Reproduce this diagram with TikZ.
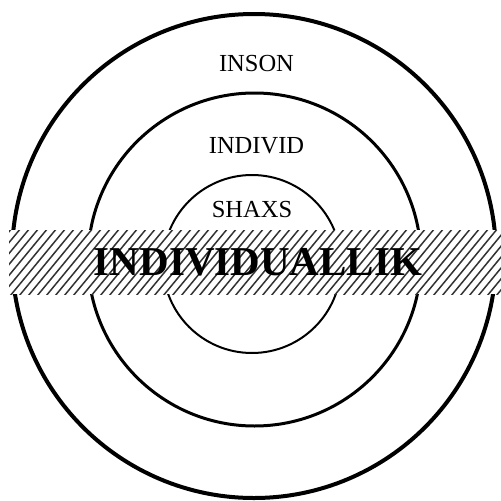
\documentclass[tikz,border=0pt]{standalone}
\usepackage{fontspec}
\setmainfont{Liberation Serif}
\begin{document}
\begin{tikzpicture}[x=1pt,y=-1pt,
  ring/.style={draw=black,fill=none},
  lbl/.style={font=\fontsize{24.5}{25}\selectfont,inner sep=0pt,anchor=base},
  biglbl/.style={font=\bfseries\fontsize{41}{41}\selectfont,inner sep=0pt,anchor=base},
  hatchline/.style={draw=black!80,line width=1.5pt}]
\useasboundingbox (0,0) rectangle (501,501);
\fill[white] (0,0) rectangle (501,501);
% rings
\draw[ring,line width=4pt] (254,256) circle[radius=242pt];
\draw[ring,line width=3pt] (254.5,259.5) circle[radius=166.5pt];
\draw[ring,line width=2pt] (252,264) circle[radius=89pt];
% labels
\node[lbl] (inson) at (256.5,71) {INSON};
\node[lbl] (individ) at (256.5,153) {INDIVID};
\node[lbl] (shaxs) at (252,217) {SHAXS};
% hatched band
\begin{scope}
  \clip (9,230) rectangle (501,294);
  \fill[white] (9,230) rectangle (501,294);
  \foreach \i in {-80,-71,...,520} {
    \draw[hatchline] (\i,296) -- ++(56,-68);
  }
\end{scope}
\node[biglbl] (indiv) at (258,275) {INDIVIDUALLIK};
\end{tikzpicture}
\end{document}
